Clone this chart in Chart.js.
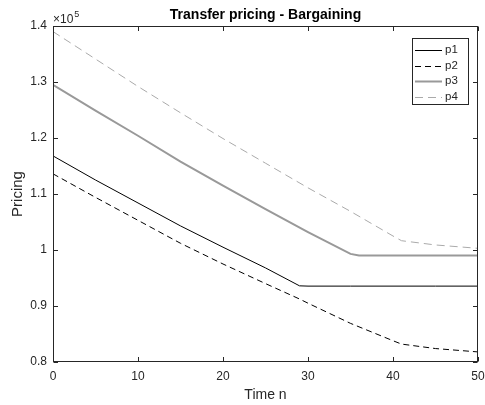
<!DOCTYPE html>
<html><head><meta charset="utf-8">
<script src="https://cdn.jsdelivr.net/npm/chart.js@4/dist/chart.umd.min.js"></script>
<style>html,body{margin:0;padding:0;background:#fff}#wrap{width:485px;height:405px}</style>
</head><body><div id="wrap"><canvas id="c" width="485" height="405"></canvas></div>
<script>
const chartTitle = 'Transfer pricing - Bargaining';
const xTitle = 'Time n';
const yTitle = 'Pricing';
const seriesNames = ['p1', 'p2', 'p3', 'p4'];
const xTicks = [0, 10, 20, 30, 40, 50];
const yTicks = [80000, 90000, 100000, 110000, 120000, 130000, 140000];

const p1Time  = [0, 5, 10, 15, 20, 25, 29, 30, 35, 40, 45, 50];
const p1Price = [116800, 112500, 108400, 104300, 100500, 96800, 93600, 93550, 93550, 93550, 93550, 93550];

const p2Time  = [0, 5, 10, 15, 20, 25, 29, 30, 35, 40, 41, 45, 50];
const p2Price = [113600, 109400, 105300, 101200, 97500, 94000, 91250, 90500, 86900, 83800, 83200, 82400, 81800];

const p3Time  = [0, 5, 10, 15, 20, 25, 30, 35, 36, 40, 45, 50];
const p3Price = [129500, 124900, 120400, 115800, 111500, 107300, 103200, 99300, 99000, 99000, 99000, 99000];

const p4Time  = [0, 5, 10, 15, 20, 25, 30, 35, 40, 41, 45, 50];
const p4Price = [139000, 134100, 129200, 124500, 119900, 115500, 111100, 106900, 102500, 101660, 100900, 100300];

const AX = '#262626';
const FONT = '"Liberation Sans", Arial, Helvetica, sans-serif';

function pts(xs, ys) { return xs.map((x, i) => ({ x: x, y: ys[i] })); }

const styles = [
  { color: '#000000', width: 1, dash: [] },
  { color: '#000000', width: 1, dash: [6, 4] },
  { color: '#999999', width: 2, dash: [] },
  { color: '#aaaaaa', width: 1, dash: [8, 5] }
];
const allX = [p1Time, p2Time, p3Time, p4Time];
const allY = [p1Price, p2Price, p3Price, p4Price];

const datasets = seriesNames.map((n, i) => ({
  label: n,
  data: pts(allX[i], allY[i]),
  borderColor: styles[i].color,
  borderWidth: styles[i].width,
  borderDash: styles[i].dash,
  pointRadius: 0,
  tension: 0,
  fill: false
}));

const decor = {
  id: 'decor',
  afterDraw(chart) {
    const ctx = chart.ctx;
    const a = chart.chartArea;
    const xs = chart.scales.x, ys = chart.scales.y;
    ctx.save();
    // box
    ctx.strokeStyle = AX; ctx.lineWidth = 1;
    const L = Math.round(a.left) + 0.5, R = Math.round(a.right) - 0.5;
    const T = Math.round(a.top) + 0.5, B = Math.round(a.bottom) - 0.5;
    ctx.strokeRect(L, T, R - L, B - T);
    // ticks inward
    const tl = 4.5;
    ctx.beginPath();
    xTicks.forEach(v => {
      const px = Math.round(xs.getPixelForValue(v)) + 0.5;
      ctx.moveTo(px, B); ctx.lineTo(px, B - tl);
      ctx.moveTo(px, T); ctx.lineTo(px, T + tl);
    });
    yTicks.forEach(v => {
      const py = Math.round(ys.getPixelForValue(v)) + 0.5;
      ctx.moveTo(L, py); ctx.lineTo(L + tl, py);
      ctx.moveTo(R, py); ctx.lineTo(R - tl, py);
    });
    ctx.stroke();
    // title
    ctx.fillStyle = '#000';
    ctx.font = 'bold 14px ' + FONT;
    ctx.textAlign = 'center'; ctx.textBaseline = 'alphabetic';
    ctx.fillText(chartTitle, (a.left + a.right) / 2, 19);
    // exponent
    ctx.fillStyle = AX;
    ctx.textAlign = 'left';
    ctx.font = '12px ' + FONT;
    ctx.fillText('\u00d710', a.left, 23);
    const w = ctx.measureText('\u00d710').width;
    ctx.font = '9px ' + FONT;
    ctx.fillText('5', a.left + w + 1, 17);
    // axis titles
    ctx.font = '14px ' + FONT;
    ctx.textAlign = 'center';
    ctx.fillText(xTitle, (a.left + a.right) / 2, 399);
    ctx.font = '15px ' + FONT;
    ctx.save();
    ctx.translate(22, (a.top + a.bottom) / 2);
    ctx.rotate(-Math.PI / 2);
    ctx.fillText(yTitle, 0, 0);
    ctx.restore();
    // legend
    const lx = 412, ly = 38, lw = 56, lh = 66;
    ctx.fillStyle = '#fff';
    ctx.fillRect(lx, ly, lw, lh);
    ctx.strokeStyle = AX; ctx.lineWidth = 1;
    ctx.strokeRect(lx + 0.5, ly + 0.5, lw, lh);
    ctx.font = '11.5px ' + FONT;
    ctx.textAlign = 'left'; ctx.textBaseline = 'middle';
    chart.data.datasets.forEach((d, i) => {
      const y = Math.round(ly + 12 + i * 15.5);
      ctx.strokeStyle = d.borderColor; ctx.lineWidth = d.borderWidth;
      ctx.setLineDash(d.borderDash);
      ctx.beginPath(); ctx.moveTo(415, y + 0.5); ctx.lineTo(442, y + 0.5); ctx.stroke();
      ctx.setLineDash([]);
      ctx.fillStyle = AX;
      ctx.fillText(d.label, 445, y);
    });
    ctx.restore();
  }
};

new Chart(document.getElementById('c'), {
  type: 'line',
  data: { datasets: datasets },
  options: {
    responsive: false,
    animation: false,
    devicePixelRatio: 1,
    layout: { padding: { top: 26, right: 7, left: 0, bottom: 0 } },
    plugins: { legend: { display: false }, title: { display: false }, tooltip: { enabled: false } },
    scales: {
      x: {
        type: 'linear', min: 0, max: 50,
        afterBuildTicks: s => { s.ticks = xTicks.map(v => ({ value: v })); },
        afterFit: s => { s.height = 43; s.paddingLeft = 0; s.paddingRight = 0; },
        grid: { display: false, drawTicks: false },
        border: { display: false },
        ticks: { color: AX, padding: 7, font: { family: FONT, size: 12 }, maxRotation: 0 }
      },
      y: {
        type: 'linear', min: 80000, max: 140000,
        afterBuildTicks: s => { s.ticks = yTicks.map(v => ({ value: v })); },
        afterFit: s => { s.width = 53; s.paddingTop = 0; s.paddingBottom = 0; },
        grid: { display: false, drawTicks: false },
        border: { display: false },
        ticks: { color: AX, padding: 6, font: { family: FONT, size: 12 },
          callback: v => String(Math.round(v / 1e4) / 10) }
      }
    }
  },
  plugins: [decor]
});
</script>
</body></html>
